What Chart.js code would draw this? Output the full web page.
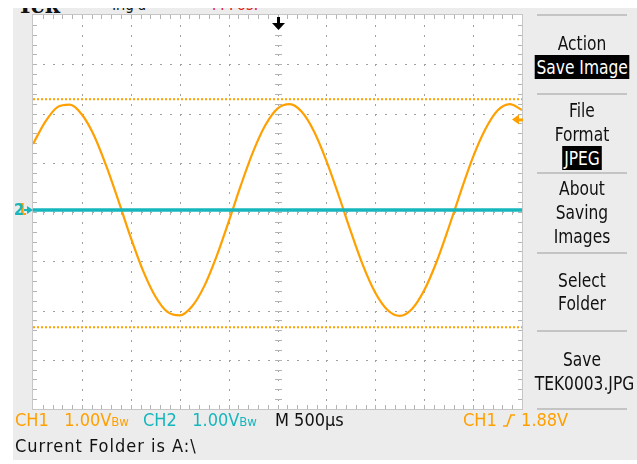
<!DOCTYPE html>
<html>
<head>
<meta charset="utf-8">
<script src="https://cdn.jsdelivr.net/npm/chart.js@4.4.1/dist/chart.umd.min.js"></script>
<style>
  body { margin: 0; width: 637px; height: 464px; overflow: hidden; position: relative; background: #fff;
         font-family: "Liberation Sans Narrow", "DejaVu Sans Condensed", sans-serif; }
  #bezel { position: absolute; left: 13px; top: 8px; width: 624px; height: 452px; background: #ececec; }
  #wrap { position: absolute; left: 0; top: 0; width: 637px; height: 464px; }
  .menu { position: absolute; left: 527px; width: 110px; text-align: center; font-size: 20px; line-height: 24px;
          color: #111; white-space: nowrap; transform: scaleX(0.86); }
  .menu .inv { background: #000; color: #fff; padding: 0 2px; }
  .sep { position: absolute; left: 537px; width: 90px; height: 2px; background: #c4c4c4; }
  .stat { position: absolute; font-size: 18px; line-height: 20px; white-space: nowrap; }
  .bw { font-size: 13px; }
  .ch1 { color: #ffa000; }
  .ch2 { color: #16b6bd; }
  #topclip { position: absolute; left: 0; top: 8px; width: 637px; height: 6px; overflow: hidden; }
  #topclip span { position: absolute; white-space: nowrap; }
</style>
</head>
<body>
<div id="bezel"></div>
<div id="topclip">
  <span style="left:17px; top:-16px; font: bold 22px 'DejaVu Serif'; color:#111;">Tek</span>
  <span style="left:110px; top:-12px; font-size:15px; color:#111;">Trig'd</span>
  <span style="left:212px; top:-13px; font-size:16px; color:#e02020;">M Pos:</span>
</div>
<div id="wrap"><canvas id="scope" width="637" height="464"></canvas></div>

<div class="sep" style="top:14px"></div>
<div class="menu" style="top:31px">Action</div>
<div class="menu" style="top:55px"><span class="inv">Save Image</span></div>
<div class="sep" style="top:93px"></div>
<div class="menu" style="top:98px">File</div>
<div class="menu" style="top:122px">Format</div>
<div class="menu" style="top:146px"><span class="inv">JPEG</span></div>
<div class="sep" style="top:172px"></div>
<div class="menu" style="top:176px">About</div>
<div class="menu" style="top:200px">Saving</div>
<div class="menu" style="top:224px">Images</div>
<div class="sep" style="top:252px"></div>
<div class="menu" style="top:268px">Select</div>
<div class="menu" style="top:291px">Folder</div>
<div class="sep" style="top:330px"></div>
<div class="menu" style="top:347px">Save</div>
<div class="menu" style="top:371px">TEK0003.JPG</div>
<div class="sep" style="top:408px"></div>

<div class="stat ch1" style="left:15px; top:410px">CH1&nbsp;&nbsp;&nbsp;1.00V<span class="bw">Bw</span></div>
<div class="stat ch2" style="left:143px; top:410px">CH2&nbsp;&nbsp;&nbsp;1.00V<span class="bw">Bw</span></div>
<div class="stat" style="left:275px; top:410px; color:#111">M 500µs</div>
<div class="stat ch1" style="left:463px; top:410px">CH1 <svg width="14" height="14" viewBox="0 0 14 14" style="vertical-align:-1px"><path d="M1 13 H5 L9 2 H13" fill="none" stroke="#ffa000" stroke-width="1.6"/></svg> 1.88V</div>
<div class="stat" style="left:15px; top:436px; color:#111; letter-spacing:1px">Current Folder is A:\</div>

<script>
// time axis in ms (500 µs/div, 10 div)
const timeMs = [0, 0.125, 0.25, 0.375, 0.5, 0.625, 0.75, 0.875, 1, 1.125, 1.25, 1.375, 1.5, 1.625,
  1.75, 1.875, 2, 2.125, 2.25, 2.375, 2.5, 2.625, 2.75, 2.875, 3, 3.125, 3.25, 3.375, 3.5, 3.625,
  3.75, 3.875, 4, 4.125, 4.25, 4.375, 4.5, 4.625, 4.75, 4.875, 5];
// CH1 trace, volts (1 V/div)
const ch1Volts = [1.38, 1.83, 2.13, 2.18, 1.98, 1.55, 0.93, 0.22, -0.52, -1.19, -1.71, -2.03, -2.10,
  -1.92, -1.51, -0.91, -0.20, 0.54, 1.22, 1.76, 2.10, 2.19, 2.03, 1.63, 1.04, 0.34, -0.40, -1.09,
  -1.64, -1.99, -2.11, -1.97, -1.59, -1.02, -0.32, 0.42, 1.12, 1.68, 2.06, 2.19, 2.07];
// CH2 flat trace
const ch2Time = [0, 5];
const ch2Volts = [0.04, 0.04];
// dotted cursor levels
const cursorVolts = [2.29, -2.34];
const triggerLevel = 1.88;
const triggerTime = 2.5;

const ORANGE = '#ffa000';
const CYAN = '#16b6bd';

const pts = (xs, ys) => xs.map((x, i) => ({ x, y: ys[i] }));

// graticule: white screen, dotted divisions, minor ticks on the edges and centre cross
const graticule = {
  id: 'graticule',
  beforeDatasetsDraw(chart) {
    const { ctx, chartArea: a, scales: { x, y } } = chart;
    ctx.save();
    ctx.fillStyle = '#fff';
    ctx.fillRect(a.left, a.top, a.right - a.left, a.bottom - a.top);
    ctx.fillStyle = '#a0a0a0';
    const X = v => Math.round(x.getPixelForValue(v));
    const Y = v => Math.round(y.getPixelForValue(v));
    // dots on division lines
    for (let d = 1; d < 10; d++) {
      const px = X(d * 0.5);
      for (let m = 1; m < 40; m++) ctx.fillRect(px, Y(-4 + m * 0.2), 1, 2);
    }
    for (let d = 1; d < 8; d++) {
      const py = Y(-4 + d);
      for (let m = 1; m < 50; m++) ctx.fillRect(X(m * 0.1), py, 2, 1);
    }
    // minor ticks
    ctx.fillStyle = '#b4b4b4';
    for (let m = 1; m < 50; m++) {
      const px = X(m * 0.1);
      ctx.fillRect(px, a.top, 1, 4);
      ctx.fillRect(px, a.bottom - 4, 1, 4);
      ctx.fillRect(px, Y(0) - 2, 1, 5);
    }
    for (let m = 1; m < 40; m++) {
      const py = Y(-4 + m * 0.2);
      ctx.fillRect(a.left, py, 4, 1);
      ctx.fillRect(a.right - 4, py, 4, 1);
      ctx.fillRect(X(2.5) - 3, py, 7, 1);
    }
    ctx.strokeStyle = '#c6c6c6';
    ctx.lineWidth = 1;
    ctx.strokeRect(a.left - 0.5, a.top - 0.5, a.right - a.left + 1, a.bottom - a.top + 1);
    ctx.restore();
  },
  afterDatasetsDraw(chart) {
    const { ctx, chartArea: a, scales: { x, y } } = chart;
    ctx.save();
    // channel ground markers (1 and 2 overlap)
    const gy = y.getPixelForValue(ch2Volts[0]);
    ctx.font = 'bold 16px "DejaVu Sans Condensed", sans-serif';
    ctx.textBaseline = 'middle';
    ctx.fillStyle = ORANGE;
    ctx.fillText('1', 17, gy + 1);
    ctx.fillStyle = CYAN;
    ctx.fillText('2', 14, gy + 1);
    ctx.beginPath();
    ctx.moveTo(a.left, gy); ctx.lineTo(a.left - 6, gy - 4); ctx.lineTo(a.left - 6, gy + 4); ctx.closePath();
    ctx.fill();
    ctx.fillRect(a.left - 9, gy - 1, 4, 2);
    // trigger level arrow on the right
    const ty = y.getPixelForValue(triggerLevel);
    ctx.fillStyle = ORANGE;
    ctx.beginPath();
    ctx.moveTo(a.right - 10, ty); ctx.lineTo(a.right - 3, ty - 5); ctx.lineTo(a.right - 3, ty + 5); ctx.closePath();
    ctx.fill();
    ctx.fillRect(a.right - 4, ty - 1, 5, 3);
    // trigger position arrow on top
    const tx = Math.round(x.getPixelForValue(triggerTime));
    ctx.fillStyle = '#000';
    ctx.fillRect(tx - 1, a.top + 2, 3, 7);
    ctx.beginPath();
    ctx.moveTo(tx - 6, a.top + 8); ctx.lineTo(tx + 7, a.top + 8); ctx.lineTo(tx + 0.5, a.top + 15); ctx.closePath();
    ctx.fill();
    ctx.restore();
  }
};

new Chart(document.getElementById('scope'), {
  type: 'line',
  data: {
    datasets: [
      { label: 'cursor a', data: pts(ch2Time, [cursorVolts[0], cursorVolts[0]]), borderColor: ORANGE,
        borderWidth: 2, borderDash: [2, 2], pointRadius: 0 },
      { label: 'cursor b', data: pts(ch2Time, [cursorVolts[1], cursorVolts[1]]), borderColor: ORANGE,
        borderWidth: 2, borderDash: [2, 2], pointRadius: 0 },
      { label: 'CH2', data: pts(ch2Time, ch2Volts), borderColor: CYAN, borderWidth: 3.5, pointRadius: 0 },
      { label: 'CH1', data: pts(timeMs, ch1Volts), borderColor: ORANGE, borderWidth: 2.2,
        pointRadius: 0, tension: 0.4, cubicInterpolationMode: 'monotone' }
    ]
  },
  options: {
    responsive: false,
    animation: false,
    events: [],
    layout: { padding: { left: 33, right: 115, top: 15, bottom: 55 } },
    scales: {
      x: { type: 'linear', min: 0, max: 5, display: false },
      y: { min: -4, max: 4, display: false }
    },
    plugins: { legend: { display: false }, tooltip: { enabled: false } }
  },
  plugins: [graticule]
});
</script>
</body>
</html>
